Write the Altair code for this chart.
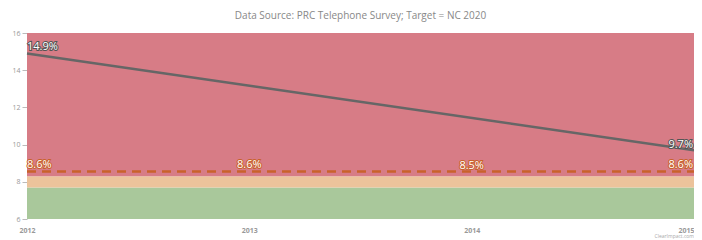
import altair as alt
import pandas as pd

years = [2012, 2013, 2014, 2015]
actual_years = [2012, 2015]
actual_values = [14.9, 9.7]
target_values = [8.56, 8.56, 8.549, 8.56]
band_low = [6, 7.7, 8.3]
band_high = [7.7, 8.3, 16]
band_colors = ["#a9c89b", "#ecc39b", "#d77c86"]

W, H = 667, 186
FONT = "Open Sans"

bands = pd.DataFrame({"lo": band_low, "hi": band_high, "c": band_colors})
actual = pd.DataFrame({"year": actual_years, "v": actual_values})
target = pd.DataFrame({"year": years, "v": target_values})

xs = alt.Scale(domain=[2012, 2015], nice=False, zero=False)
ys = alt.Scale(domain=[6, 16], nice=False, zero=False)

xax = alt.Axis(values=years, format="d", title=None, labelFontSize=7, labelColor="#999",
               labelFontWeight="bold", ticks=False, domain=False, grid=False, labelPadding=7,
               labelFont=FONT, labelOverlap=False,
               labelAlign=alt.ExprRef(expr="datum.value == 2015 ? 'right' : 'center'"))
yax = alt.Axis(values=[6, 8, 10, 12, 14, 16], title=None, labelFontSize=7, labelColor="#999",
               tickColor="#bbb", tickSize=5, domain=False, grid=False, labelFont=FONT, labelPadding=2,
               labelOverlap=False)

band_layer = alt.Chart(bands).mark_rect().encode(
    x=alt.value(0), x2=alt.value(W),
    y=alt.Y("lo:Q", scale=ys, axis=yax), y2="hi:Q",
    color=alt.Color("c:N", scale=None),
)

line_layer = alt.Chart(actual).mark_line(color="#666", strokeWidth=2.5).encode(
    x=alt.X("year:Q", scale=xs, axis=xax), y=alt.Y("v:Q", scale=ys, axis=yax))

target_layer = alt.Chart(target).mark_line(color="#c9622b", strokeWidth=2.5, strokeDash=[9, 6]).encode(
    x=alt.X("year:Q", scale=xs, axis=xax), y=alt.Y("v:Q", scale=ys, axis=yax))


def labels(df, stroke, align, dx, dy, flt):
    base = alt.Chart(df).transform_filter(flt).transform_calculate(
        lab="format(datum.v, '.1f') + '%'")
    enc = dict(x=alt.X("year:Q", scale=xs, axis=xax), y=alt.Y("v:Q", scale=ys, axis=yax), text="lab:N")
    outline = base.mark_text(align=align, dx=dx, dy=dy, fontSize=11, font=FONT,
                             stroke=stroke, strokeWidth=2, fill=stroke, baseline="bottom").encode(**enc)
    fill = base.mark_text(align=align, dx=dx, dy=dy, fontSize=11, font=FONT,
                          fill="white", baseline="bottom").encode(**enc)
    return [outline, fill]


layers = [band_layer, line_layer, target_layer]
layers += labels(actual, "#555", "left", 0, -1, "datum.year == 2012")
layers += labels(actual, "#555", "right", -1, 0, "datum.year == 2015")
layers += labels(target, "#c9622b", "left", 0, -1, "datum.year == 2012")
layers += labels(target, "#c9622b", "center", 0, -1, "datum.year == 2013 || datum.year == 2014")
layers += labels(target, "#c9622b", "right", -1, -1, "datum.year == 2015")

credit = alt.Chart(pd.DataFrame({"t": ["ClearImpact.com"]})).mark_text(
    align="right", fontSize=5, color="#aaa", font=FONT, baseline="middle").encode(
    x=alt.value(W), y=alt.value(H + 17), text="t:N")
layers.append(credit)

chart = alt.layer(*layers).properties(
    width=W, height=H,
    autosize=alt.AutoSizeParams(type="none"),
    padding={"left": 19, "top": 25, "right": 0, "bottom": 21},
    title=alt.Title("Data Source: PRC Telephone Survey; Target = NC 2020", fontSize=10,
                    color="#888", font=FONT, fontWeight="normal", offset=8),
).configure_view(stroke=None).configure_axis(labelOverlap=False)

chart.save("out.html", embed_options={"renderer": "svg", "actions": False})
